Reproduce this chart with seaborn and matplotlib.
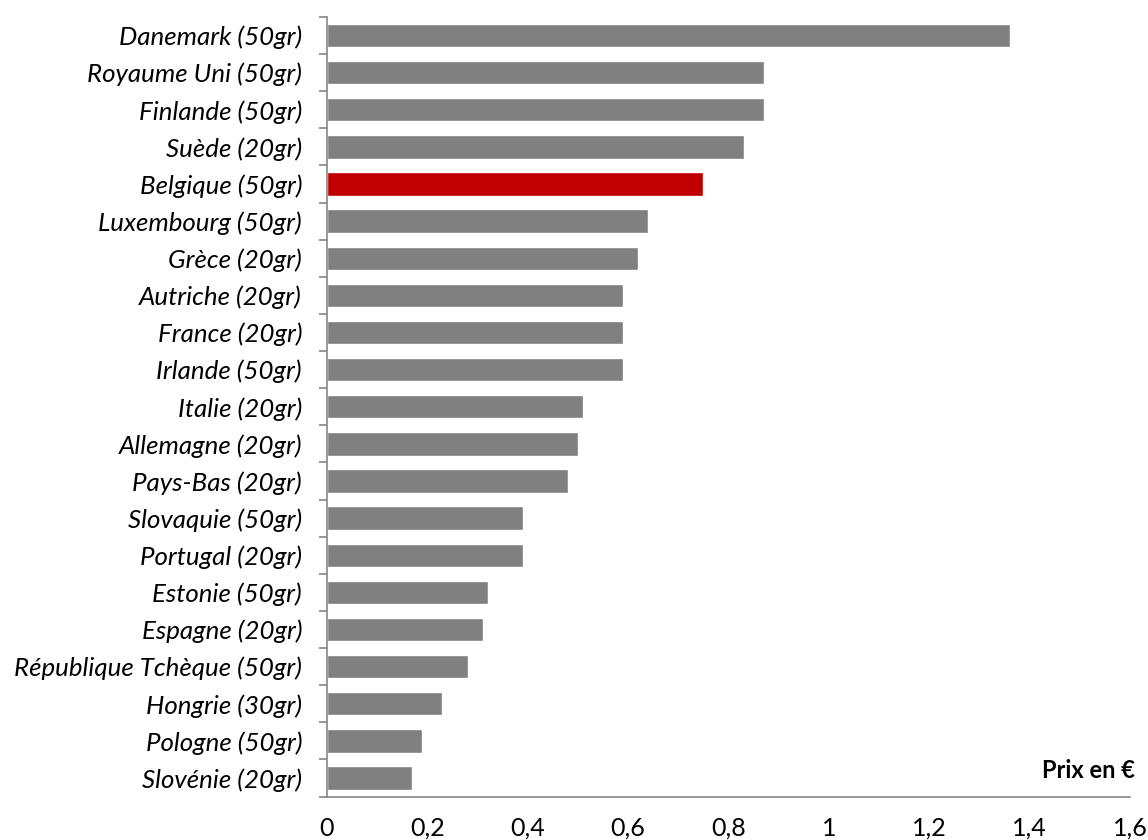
import matplotlib
matplotlib.use("Agg")
import matplotlib.pyplot as plt
from matplotlib.ticker import FixedLocator, FuncFormatter
import seaborn as sns
import pandas as pd

countries = [
    "Danemark (50gr)", "Royaume Uni (50gr)", "Finlande (50gr)", "Suède (20gr)",
    "Belgique (50gr)", "Luxembourg (50gr)", "Grèce (20gr)", "Autriche (20gr)",
    "France (20gr)", "Irlande (50gr)", "Italie (20gr)", "Allemagne (20gr)",
    "Pays-Bas (20gr)", "Slovaquie (50gr)", "Portugal (20gr)", "Estonie (50gr)",
    "Espagne (20gr)", "République Tchèque (50gr)", "Hongrie (30gr)",
    "Pologne (50gr)", "Slovénie (20gr)",
]
prices = [1.36, 0.87, 0.87, 0.83, 0.75, 0.64, 0.62, 0.59, 0.59, 0.59, 0.51,
          0.50, 0.48, 0.39, 0.39, 0.32, 0.31, 0.28, 0.23, 0.19, 0.17]
highlight = "Belgique (50gr)"
x_ticks = [0, 0.2, 0.4, 0.6, 0.8, 1.0, 1.2, 1.4, 1.6]

sns.set_theme(style="white")
plt.rcParams["font.family"] = ["Lato", "DejaVu Sans"]

df = pd.DataFrame({"pays": countries, "prix": prices})
palette = {c: ("#C00000" if c == highlight else "#808080") for c in countries}

fig = plt.figure(figsize=(11.48, 8.40), dpi=100)
ax = fig.add_axes([327 / 1148, 1 - 796.5 / 840, (1130 - 327) / 1148, (796.5 - 17) / 840])

sns.barplot(data=df, y="pays", x="prix", hue="pays", palette=palette,
            order=countries, legend=False, width=0.63, saturation=1,
            orient="h", ax=ax)

axis_col = "#868686"
ax.set_xlim(0, 1.6)
ax.set_ylim(len(countries) - 0.5, -0.5)
ax.set_xlabel("")
ax.set_ylabel("")

for side in ("top", "right"):
    ax.spines[side].set_visible(False)
for side in ("left", "bottom"):
    ax.spines[side].set_color(axis_col)
    ax.spines[side].set_linewidth(1.2)

# x axis: outward tick marks with comma decimal labels
ax.xaxis.set_major_locator(FixedLocator(x_ticks))
ax.xaxis.set_major_formatter(FuncFormatter(lambda v, p: f"{v:g}".replace(".", ",")))
ax.tick_params(axis="x", which="major", direction="out", length=6, width=1.2,
               color=axis_col, labelsize=18, labelcolor="black", pad=8.5)

# y axis: tick marks between categories, labels centred on bars
ax.yaxis.set_minor_locator(FixedLocator([i - 0.5 for i in range(len(countries) + 1)]))
ax.tick_params(axis="y", which="minor", direction="out", length=6, width=1.2,
               color=axis_col, left=True)
ax.tick_params(axis="y", which="major", length=0, labelsize=18.6,
               labelcolor="black", pad=18)
for lbl in ax.get_yticklabels():
    lbl.set_fontstyle("italic")

ax.text(1.006, 0.018, "Prix en €", transform=ax.transAxes, ha="right", va="bottom",
        fontsize=17, fontweight="bold", color="black")

fig.savefig("out.png", dpi=100)
